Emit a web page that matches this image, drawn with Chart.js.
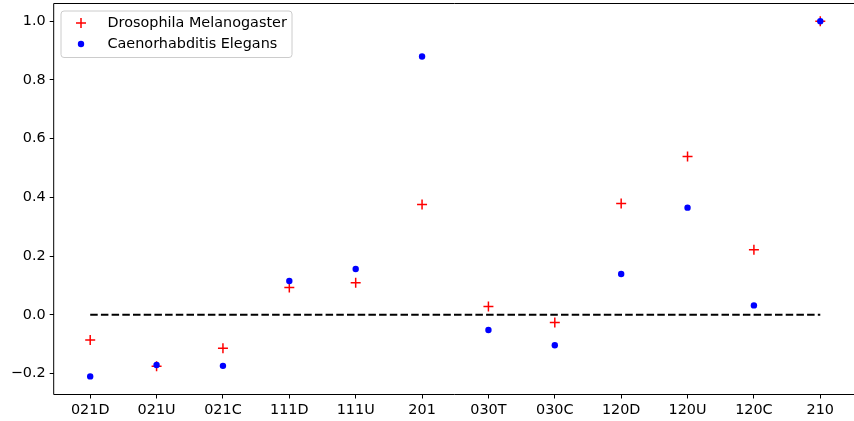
<!DOCTYPE html>
<html>
<head>
<meta charset="utf-8">
<script src="https://cdn.jsdelivr.net/npm/chart.js@4"></script>
<style>
  html, body { margin: 0; padding: 0; background: #fff; }
  #wrap { width: 854px; height: 421px; }
</style>
</head>
<body>
<div id="wrap"><canvas id="chart"></canvas></div>
<script>
// --- Data ---
const categories = ['021D', '021U', '021C', '111D', '111U', '201', '030T', '030C', '120D', '120U', '120C', '210'];
const drosophila = [-0.086, -0.175, -0.114, 0.093, 0.109, 0.376, 0.028, -0.026, 0.379, 0.539, 0.222, 1.0];
const elegans = [-0.210, -0.171, -0.174, 0.115, 0.156, 0.880, -0.052, -0.104, 0.139, 0.365, 0.032, 1.0];
const yTicks = [-0.2, 0.0, 0.2, 0.4, 0.6, 0.8, 1.0];
const zeroLine = [0, 0];

const FONT = "'DejaVu Sans', sans-serif";
const FONT_SIZE = 14.4;

function toPoints(values) {
    return values.map((v, i) => ({ x: i, y: v }));
}

// top, left and bottom spines; the original is cropped before the right one
const framePlugin = {
    id: 'frame',
    afterDatasetsDraw(chart) {
        const { ctx, chartArea: a } = chart;
        ctx.save();
        ctx.strokeStyle = '#000';
        ctx.lineWidth = 1;
        ctx.beginPath();
        ctx.moveTo(a.right + 1, a.top);
        ctx.lineTo(a.left, a.top);
        ctx.lineTo(a.left, a.bottom);
        ctx.lineTo(a.right + 1, a.bottom);
        ctx.stroke();
        ctx.restore();
    }
};

// legend drawn inside the plot, upper left
const insideLegend = {
    id: 'insideLegend',
    afterDraw(chart) {
        const { ctx, chartArea: a } = chart;
        const items = chart.data.datasets.filter(d => d.showInLegend);
        const x = a.left + 7.3, y = a.top + 7.5;
        const w = 231, h = 46.5;
        ctx.save();
        ctx.fillStyle = 'rgba(255,255,255,0.8)';
        ctx.strokeStyle = '#cccccc';
        ctx.lineWidth = 1;
        ctx.beginPath();
        ctx.roundRect(x, y, w, h, 3);
        ctx.fill();
        ctx.stroke();
        ctx.font = FONT_SIZE + 'px ' + FONT;
        ctx.textBaseline = 'middle';
        items.forEach((d, i) => {
            const cy = y + 12 + i * 21;
            const mx = x + 20;
            if (d.pointStyle === 'cross') {
                ctx.strokeStyle = d.borderColor;
                ctx.lineWidth = d.borderWidth;
                ctx.beginPath();
                ctx.moveTo(mx - 5, cy); ctx.lineTo(mx + 5, cy);
                ctx.moveTo(mx, cy - 5); ctx.lineTo(mx, cy + 5);
                ctx.stroke();
            } else {
                ctx.fillStyle = d.backgroundColor;
                ctx.beginPath();
                ctx.arc(mx, cy, d.pointRadius, 0, Math.PI * 2);
                ctx.fill();
            }
            ctx.fillStyle = '#000';
            ctx.fillText(d.label, x + 46.5, cy);
        });
        ctx.restore();
    }
};

new Chart(document.getElementById('chart'), {
    type: 'scatter',
    data: {
        datasets: [
            {
                label: 'Drosophila Melanogaster',
                showInLegend: true,
                data: toPoints(drosophila),
                pointStyle: 'cross',
                pointRadius: 5,
                borderColor: '#ff0000',
                backgroundColor: '#ff0000',
                borderWidth: 1.5,
                order: 2
            },
            {
                label: 'Caenorhabditis Elegans',
                showInLegend: true,
                data: toPoints(elegans),
                pointStyle: 'circle',
                pointRadius: 3.2,
                borderWidth: 0,
                backgroundColor: '#0000ff',
                borderColor: '#0000ff',
                order: 1
            },
            {
                type: 'line',
                label: 'zero',
                data: [{ x: 0, y: zeroLine[0] }, { x: categories.length - 1, y: zeroLine[1] }],
                borderColor: '#000',
                borderWidth: 2,
                borderDash: [7.5, 3.2],
                pointRadius: 0,
                fill: false,
                order: 3
            }
        ]
    },
    options: {
        responsive: true,
        maintainAspectRatio: false,
        animation: false,
        layout: { autoPadding: false, padding: { top: 3.5, right: 0, left: 0, bottom: 0 } },
        plugins: {
            legend: { display: false },
            tooltip: { enabled: false }
        },
        scales: {
            x: {
                type: 'linear',
                min: -0.55,
                max: 11.508, // view ends where the original image was cropped
                afterBuildTicks: (scale) => {
                    scale.ticks = categories.map((c, i) => ({ value: i }));
                },
                afterFit: (scale) => {
                    scale.height = 26.5;
                    scale.paddingLeft = 0;
                    scale.paddingRight = 0;
                },
                ticks: {
                    callback: (v) => categories[v],
                    color: '#000',
                    font: { family: FONT, size: FONT_SIZE },
                    padding: 3,
                    maxRotation: 0,
                    autoSkip: false
                },
                grid: {
                    drawOnChartArea: false,
                    drawTicks: true,
                    tickLength: 4,
                    color: '#000'
                },
                border: { display: false }
            },
            y: {
                min: -0.2716,
                max: 1.0606,
                afterBuildTicks: (scale) => {
                    scale.ticks = yTicks.map(v => ({ value: v }));
                },
                afterFit: (scale) => {
                    scale.width = 53.7;
                    scale.paddingTop = 0;
                    scale.paddingBottom = 0;
                },
                ticks: {
                    callback: (v) => (v < 0 ? '\u2212' + Math.abs(v).toFixed(1) : v.toFixed(1)),
                    color: '#000',
                    font: { family: FONT, size: FONT_SIZE },
                    padding: 4
                },
                grid: {
                    drawOnChartArea: false,
                    drawTicks: true,
                    tickLength: 4,
                    color: '#000'
                },
                border: { display: false }
            }
        }
    },
    plugins: [framePlugin, insideLegend]
});
</script>
</body>
</html>
